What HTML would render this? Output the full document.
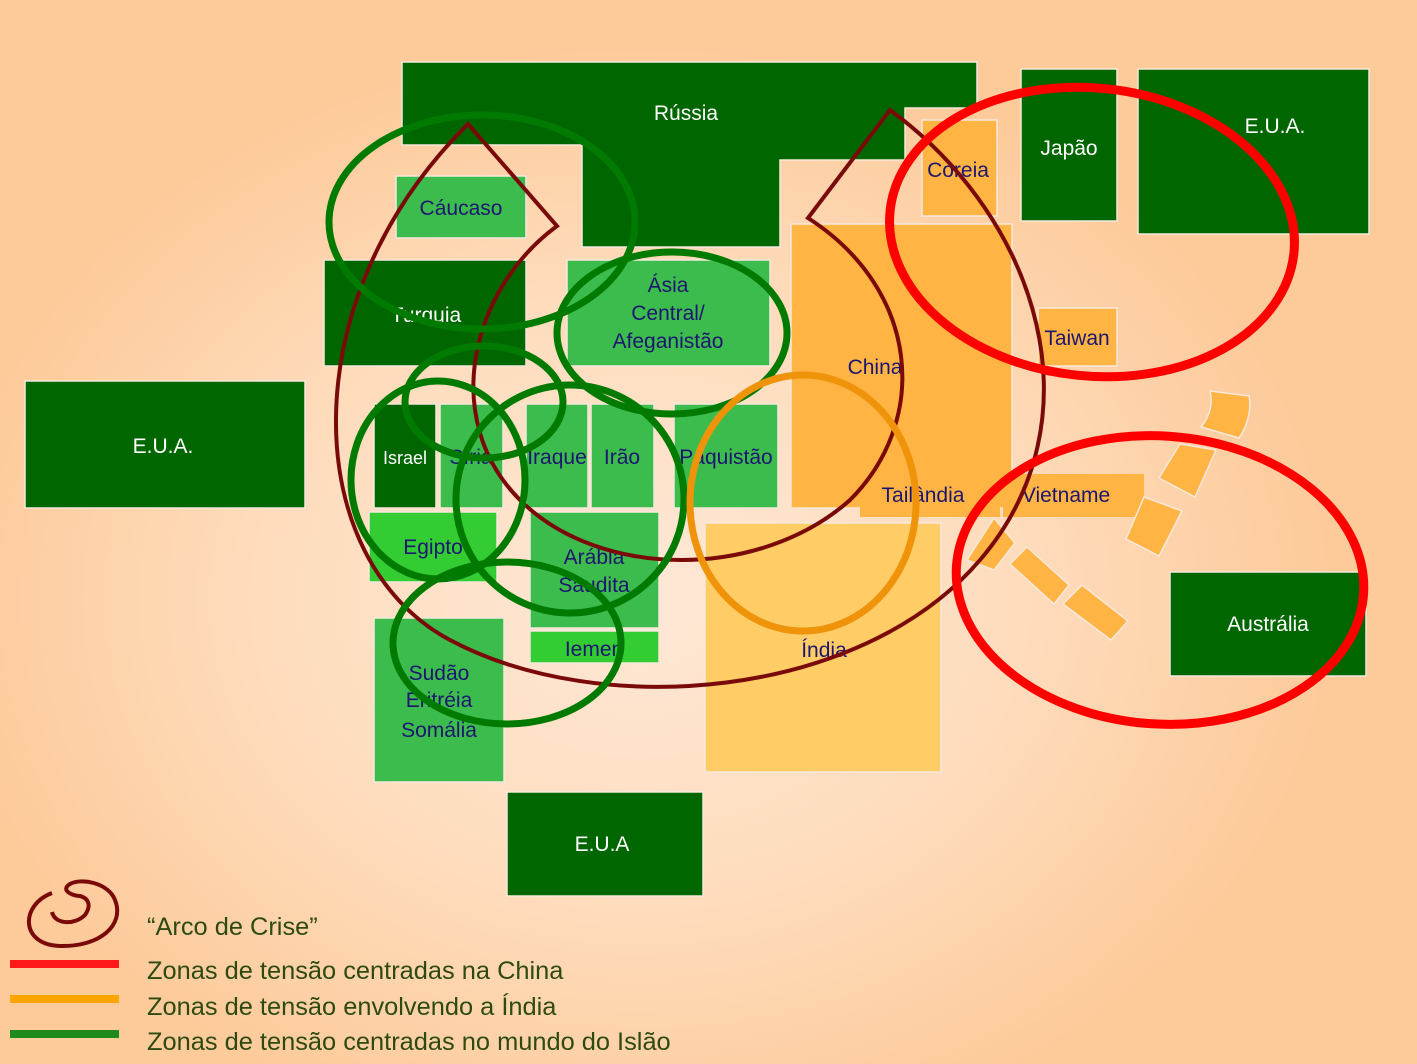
<!DOCTYPE html>
<html><head><meta charset="utf-8"><style>
body{margin:0;width:1417px;height:1064px;overflow:hidden;background:radial-gradient(ellipse 700px 560px at 640px 600px,#fee8d6 0%,#fedcbc 55%,#fdca9a 100%);font-family:"Liberation Sans",sans-serif}
svg{position:absolute;left:0;top:0}
</style></head><body>
<svg width="1417" height="1064" viewBox="0 0 1417 1064" font-family="Liberation Sans, sans-serif" font-size="21">
<g stroke="#f6e8dc" stroke-width="1.5">
<polygon points="402,62 977,62 977,108 905,108 905,160 780,160 780,247 582,247 582,145 402,145" fill="#006600"/>
<rect x="922" y="120" width="75" height="96" fill="#ffb443"/>
<rect x="1021" y="69" width="96" height="152" fill="#006600"/>
<rect x="1138" y="69" width="231" height="165" fill="#006600"/>
<rect x="791" y="224" width="221" height="284" fill="#ffb443"/>
<rect x="1038" y="308" width="79" height="58" fill="#ffb443"/>
<rect x="860" y="470" width="140" height="47" fill="#ffb443" stroke="none"/>
<rect x="1003" y="474" width="141" height="43" fill="#ffb443" stroke="none"/>
<rect x="705" y="523" width="236" height="249" fill="#ffcc66"/>
<rect x="1170" y="572" width="196" height="104" fill="#006600"/>
<rect x="25" y="381" width="280" height="127" fill="#006600"/>
<rect x="396" y="176" width="130" height="62" fill="#3cbc4c"/>
<rect x="324" y="260" width="202" height="106" fill="#006600"/>
<rect x="567" y="260" width="203" height="106" fill="#3cbc4c"/>
<rect x="374" y="404" width="62" height="104" fill="#006600"/>
<rect x="440" y="404" width="63" height="104" fill="#3cbc4c"/>
<rect x="526" y="404" width="62" height="104" fill="#3cbc4c"/>
<rect x="591" y="404" width="63" height="104" fill="#3cbc4c"/>
<rect x="674" y="404" width="104" height="104" fill="#3cbc4c"/>
<rect x="369" y="512" width="128" height="70" fill="#33cc33"/>
<rect x="530" y="512" width="129" height="116" fill="#3cbc4c"/>
<rect x="530" y="631" width="129" height="32" fill="#33cc33"/>
<rect x="374" y="618" width="130" height="164" fill="#3cbc4c"/>
<rect x="507" y="792" width="196" height="104" fill="#006600"/>
<path d="M1210,391 L1249,396 C1252,412 1246,428 1239,438 L1201,427 C1210,416 1213,404 1210,391Z" fill="#ffb443"/>
<polygon points="1159,478 1180,444 1216,450 1195,497" fill="#ffb443"/>
<polygon points="1126,539 1144,497 1182,511 1159,556" fill="#ffb443"/>
<polygon points="967,560 994,570 1015,543 994,518" fill="#ffb443"/>
<polygon points="1010,564 1027,547 1069,585 1054,604" fill="#ffb443"/>
<polygon points="1063,604 1082,585 1128,621 1111,640" fill="#ffb443"/>
</g>
<g fill="#fff" text-anchor="middle">
<text x="686" y="120">Rússia</text>
<text x="1069" y="155">Japão</text>
<text x="1275" y="133">E.U.A.</text>
<text x="163" y="453">E.U.A.</text>
<text x="426" y="322">Turquia</text>
<text x="405" y="464" font-size="18">Israel</text>
<text x="1268" y="631">Austrália</text>
<text x="602" y="851">E.U.A</text>
</g>
<g fill="#1c1670" text-anchor="middle">
<text x="461" y="215">Cáucaso</text>
<text x="668" y="292">Ásia</text>
<text x="668" y="320">Central/</text>
<text x="668" y="348">Afeganistão</text>
<text x="471" y="464">Síria</text>
<text x="557" y="464">Iraque</text>
<text x="622" y="464">Irão</text>
<text x="726" y="464">Paquistão</text>
<text x="433" y="554">Egipto</text>
<text x="594" y="564">Arábia</text>
<text x="594" y="592">Saudita</text>
<text x="594" y="656">Iemen</text>
<text x="439" y="680">Sudão</text>
<text x="439" y="707">Eritréia</text>
<text x="439" y="737">Somália</text>
<text x="958" y="177">Coreia</text>
<text x="875" y="374">China</text>
<text x="1077" y="345">Taiwan</text>
<text x="923" y="502">Tailândia</text>
<text x="1066" y="502">Vietname</text>
<text x="824" y="657">Índia</text>
</g>
<g fill="none">
<path d="M468,124 L557,226 C470,290 440,420 520,500 C600,580 760,580 850,500 C930,420 920,290 808,218 L890,110 C1040,220 1100,420 980,560 C860,700 600,720 450,640 C300,560 290,300 468,124 Z" stroke="#7a0a0a" stroke-width="4"/>
<g stroke="#007a00" stroke-width="7">
<ellipse cx="482" cy="222" rx="153" ry="107"/>
<ellipse cx="672" cy="333" rx="115" ry="81"/>
<ellipse cx="484" cy="402" rx="79" ry="56"/>
<ellipse cx="438" cy="480" rx="87" ry="99"/>
<ellipse cx="570" cy="499" rx="114" ry="114"/>
<ellipse cx="507" cy="643" rx="114" ry="81"/>
</g>
<ellipse cx="803" cy="503" rx="113" ry="128" stroke="#ef930a" stroke-width="7"/>
<g stroke="#ff0000" stroke-width="9">
<ellipse cx="1092" cy="232" rx="203" ry="144" transform="rotate(6 1092 232)"/>
<ellipse cx="1160" cy="580" rx="204" ry="144" transform="rotate(4 1160 580)"/>
</g>
<path d="M52,893 C20,905 20,945 60,946 C100,947 125,925 115,900 C108,882 80,878 70,884 M70,884 C60,890 72,896 80,896 C88,898 92,905 85,915 C75,925 55,925 52,912" stroke="#7a0a0a" stroke-width="4"/>
<line x1="10" y1="964" x2="119" y2="964" stroke="#ff1a1a" stroke-width="8"/>
<line x1="10" y1="999" x2="119" y2="999" stroke="#ffa500" stroke-width="8"/>
<line x1="10" y1="1034" x2="119" y2="1034" stroke="#1e8a1e" stroke-width="8"/>
</g>
<g fill="#2d4a10" font-size="25.4">
<text x="147" y="935">“Arco de Crise”</text>
<text x="147" y="979">Zonas de tensão centradas na China</text>
<text x="147" y="1015">Zonas de tensão envolvendo a Índia</text>
<text x="147" y="1050">Zonas de tensão centradas no mundo do Islão</text>
</g>
</svg>
</body></html>
